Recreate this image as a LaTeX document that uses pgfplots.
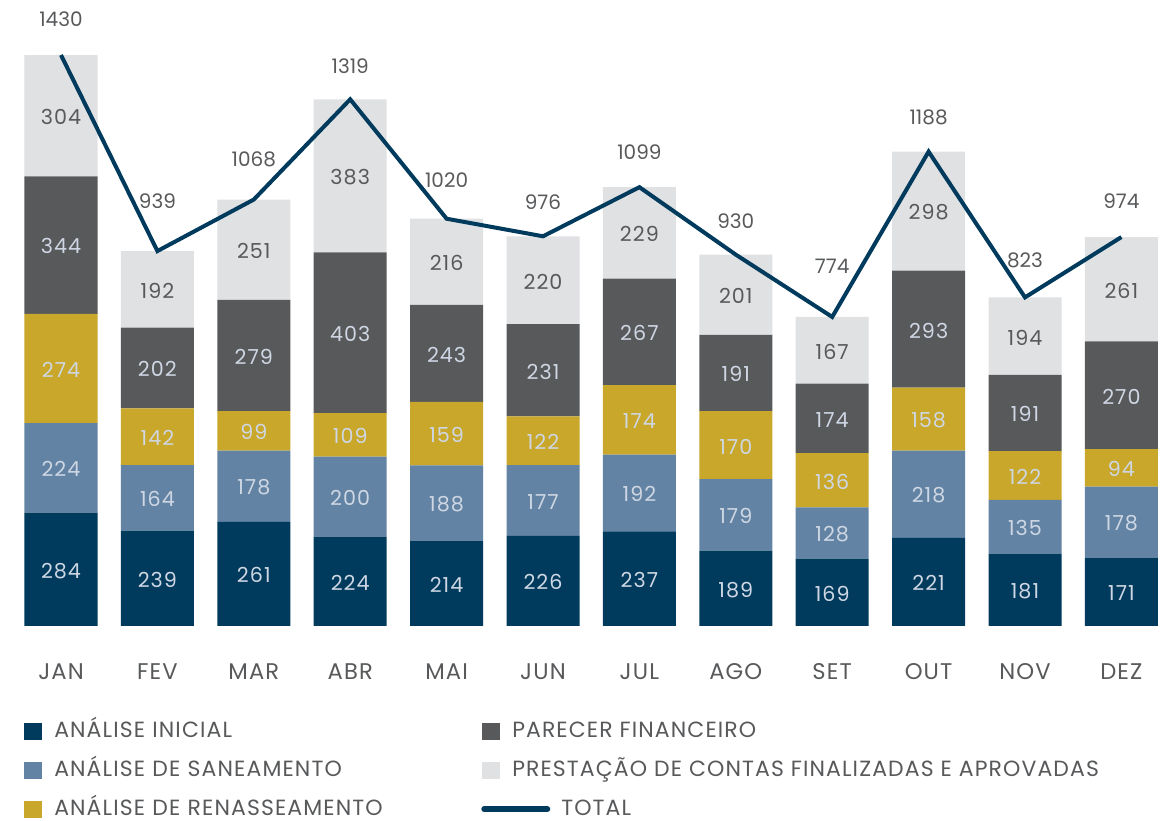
\documentclass[border=0pt]{standalone}
\usepackage{fontspec}
\setmainfont{Poppins}
\newfontfamily\spaced[LetterSpace=5]{Poppins}
\usepackage{pgfplots}
\usepackage{pgfplotstable}
\pgfplotsset{compat=1.18}
\definecolor{cA}{HTML}{003A5D}
\definecolor{cB}{HTML}{6283A3}
\definecolor{cC}{HTML}{C9A72A}
\definecolor{cD}{HTML}{58595B}
\definecolor{cE}{HTML}{E0E1E3}
\definecolor{lbl}{HTML}{CED7E3}
\definecolor{txt}{HTML}{58595B}
\pgfplotstableread{
x a b c d e total ly
0 284 224 274 344 304 1430 1520
1 239 164 142 202 192 939 1064
2 261 178 99 279 251 1068 1170
3 224 200 109 403 383 1319 1402
4 214 188 159 243 216 1020 1117
5 226 177 122 231 220 976 1062
6 237 192 174 267 229 1099 1187
7 189 179 170 191 201 930 1014
8 169 128 136 174 167 774 902
9 221 218 158 293 298 1188 1275
10 181 135 122 191 194 823 917
11 171 178 94 270 261 974 1064
}\data
\pgfplotsset{
  /pgf/number format/1000 sep={},
  /pgf/number format/assume math mode=true,
  base/.style={
    scale only axis, width=867.6pt, height=449.2pt,
    xmin=-0.5, xmax=11.5, ymin=0, ymax=1500,
    axis line style={draw=none}, tick style={draw=none},
    ytick=\empty, clip=false,
    at={(9.6pt,146.25pt)}, anchor=south west,
  },
  lab/.style={draw=none, mark=none, nodes near coords, point meta=explicit,
    nodes near coords style={anchor=center, yshift=-1pt, font=\spaced\fontsize{15.5pt}{18pt}\selectfont, text=#1}},
}
\begin{document}
\begin{tikzpicture}
\path[use as bounding box] (0,0) rectangle (873pt,615.75pt);
\begin{axis}[base, ybar stacked, bar width=54.75pt,
  xtick=data, xticklabels={JAN,FEV,MAR,ABR,MAI,JUN,JUL,AGO,SET,OUT,NOV,DEZ},
  xticklabel style={font=\spaced\fontsize{17pt}{20pt}\selectfont, text=txt, anchor=center, yshift=-34.5pt},
  legend columns=3, transpose legend, legend cell align=left,
  legend style={at={(0.00968,-0.1605)}, anchor=north west, draw=none, fill=none, inner sep=0pt,
    row sep=16.3pt, font=\spaced\fontsize{16.5pt}{19pt}\selectfont, text=txt,
    nodes={inner sep=0pt, text height=11pt, text depth=2pt},
    /tikz/every odd column/.append style={column sep=9pt},
    /tikz/column 2/.append style={nodes={text width=321pt}},
  },
  legend image code/.code={\fill[#1, draw=none] (0pt,-6.4pt) rectangle (13.5pt,6.4pt);},
]
\addplot[fill=cA, draw=none] table[x=x,y=a]{\data};
\addlegendentry{ANÁLISE INICIAL}
\addplot[fill=cB, draw=none] table[x=x,y=b]{\data};
\addlegendentry{ANÁLISE DE SANEAMENTO}
\addplot[fill=cC, draw=none] table[x=x,y=c]{\data};
\addlegendentry{ANÁLISE DE RENASSEAMENTO}
\addplot[fill=cD, draw=none] table[x=x,y=d]{\data};
\addlegendentry{PARECER FINANCEIRO}
\addplot[fill=cE, draw=none] table[x=x,y=e]{\data};
\addlegendentry{PRESTAÇÃO DE CONTAS FINALIZADAS E APROVADAS}
\addlegendimage{legend image code/.code={\path[draw=none, fill=none] (0pt,-6.4pt) rectangle (13.5pt,6.4pt); \draw[overlay, cA, line width=4.5pt, line cap=round] (1.5pt,0pt) -- (48.75pt,0pt);}}
\addlegendentry{\hspace*{36.75pt}TOTAL}
\end{axis}
\begin{axis}[base, xtick=\empty]
\addplot[lab=lbl] table[x=x, y expr=\thisrow{a}/2, meta=a]{\data};
\addplot[lab=lbl] table[x=x, y expr=\thisrow{a}+\thisrow{b}/2, meta=b]{\data};
\addplot[lab=lbl] table[x=x, y expr=\thisrow{a}+\thisrow{b}+\thisrow{c}/2, meta=c]{\data};
\addplot[lab=lbl] table[x=x, y expr=\thisrow{a}+\thisrow{b}+\thisrow{c}+\thisrow{d}/2, meta=d]{\data};
\addplot[lab=txt] table[x=x, y expr=\thisrow{a}+\thisrow{b}+\thisrow{c}+\thisrow{d}+\thisrow{e}/2, meta=e]{\data};
\addplot[cA, line width=3pt, mark=none, line join=miter] table[x=x,y=total]{\data};
\addplot[draw=none, mark=none, nodes near coords, point meta=explicit,
  nodes near coords style={anchor=center, font=\fontsize{15pt}{18pt}\selectfont, text=txt}] table[x=x,y=ly,meta=total]{\data};
\end{axis}
\end{tikzpicture}
\end{document}
